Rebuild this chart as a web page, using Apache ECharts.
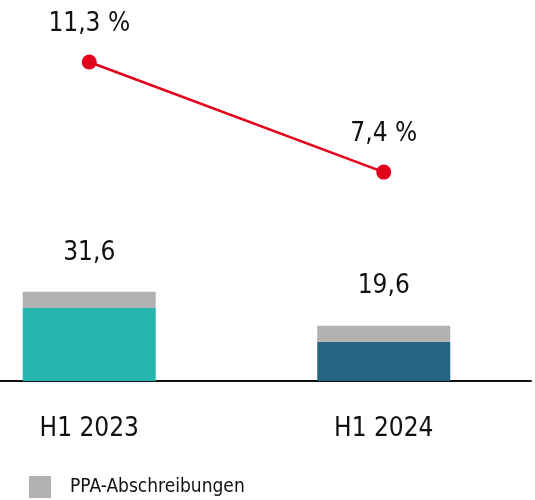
<!DOCTYPE html>
<html>
<head>
<meta charset="utf-8">
<script src="https://cdn.jsdelivr.net/npm/echarts@6/dist/echarts.min.js"></script>
<style>
  html, body { margin: 0; padding: 0; background: #fff; overflow: hidden; }
  /* shifted left so the first category band starts off-canvas like the original */
  #chart { width: 593px; height: 500px; margin-left: -58px; }
</style>
</head>
<body>
<div id="chart"></div>
<script>
const categories = ["H1 2023", "H1 2024"];
const baseValues = [25.9, 13.9];
const ppaValues = [5.7, 5.7];
const marginValues = [11.3, 7.4];
const barColors = ["#26b5b0", "#246582"];

const FONT = '"Liberation Sans Narrow", "DejaVu Sans Condensed", "Liberation Sans", sans-serif';
const TEXT = "#111";

function formatDe(value) {
  return value.toFixed(1).replace(".", ",");
}

function buildOption() {
  return {
    animation: false,
    textStyle: { fontFamily: FONT, color: TEXT },
    grid: { left: 0, right: 4, top: 14, bottom: 119 },
    legend: {
      data: ["PPA-Abschreibungen"],
      left: 87,
      top: 476,
      padding: 0,
      itemWidth: 22,
      itemHeight: 22,
      icon: "rect",
      textStyle: { fontFamily: FONT, fontSize: 19, color: TEXT, padding: [0, 0, 0, 14] },
    },
    xAxis: {
      type: "category",
      data: categories,
      axisTick: { show: false },
      axisLine: { lineStyle: { color: "#111", width: 2 } },
      axisLabel: { fontFamily: FONT, fontSize: 26, color: TEXT, margin: 35 },
    },
    yAxis: [
      { type: "value", min: 0, max: 130, show: false, splitLine: { show: false } },
      { type: "value", min: 0, max: 13, show: false, splitLine: { show: false } },
    ],
    series: [
      {
        name: "Operativ",
        type: "bar",
        stack: "ebit",
        barWidth: 133,
        data: baseValues.map((v, i) => ({ value: v, itemStyle: { color: barColors[i] } })),
      },
      {
        name: "PPA-Abschreibungen",
        type: "bar",
        stack: "ebit",
        barWidth: 133,
        itemStyle: { color: "#b1b2b1" },
        data: ppaValues,
        label: {
          show: true,
          position: "top",
          distance: 26,
          fontFamily: FONT,
          fontSize: 26,
          color: TEXT,
          formatter: (p) => formatDe(baseValues[p.dataIndex] + ppaValues[p.dataIndex]),
        },
      },
      {
        name: "Marge",
        type: "line",
        yAxisIndex: 1,
        data: marginValues,
        symbol: "circle",
        symbolSize: 15,
        lineStyle: { color: "#e2001a", width: 2.5 },
        itemStyle: { color: "#e2001a" },
        label: {
          show: true,
          position: "top",
          distance: 17,
          fontFamily: FONT,
          fontSize: 26,
          color: TEXT,
          formatter: (p) => formatDe(p.value) + " %",
        },
      },
    ],
  };
}

const chart = echarts.init(document.getElementById("chart"));
chart.setOption(buildOption());
</script>
</body>
</html>
